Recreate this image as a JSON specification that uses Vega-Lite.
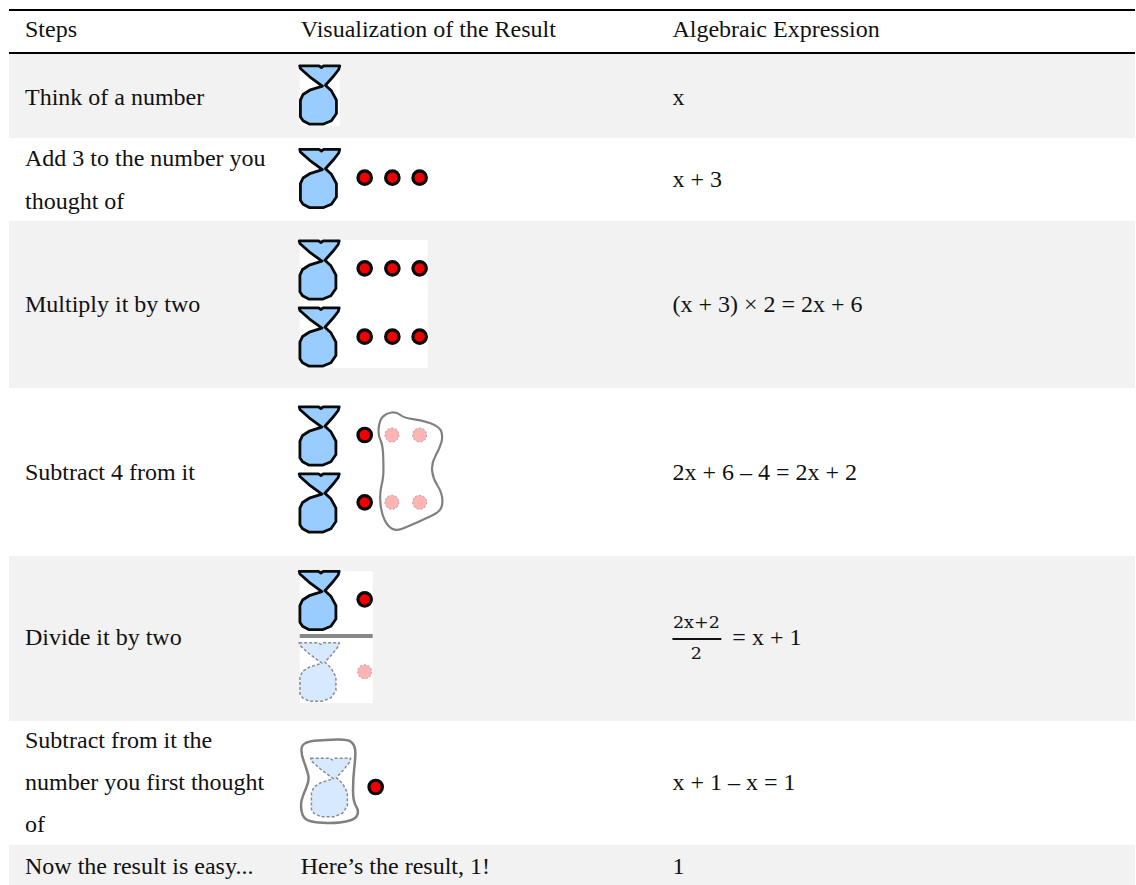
{"$schema":"https://vega.github.io/schema/vega-lite/v6.json","width":1136,"height":885,"autosize":{"type":"fit","contains":"padding"},"padding":0,"background":"#ffffff","view":{"stroke":null},
"datasets":{
"bands":[{"x":9,"x2":1136,"y":54,"y2":138},{"x":9,"x2":1136,"y":221,"y2":388},{"x":9,"x2":1136,"y":556,"y2":721},{"x":9,"x2":1136,"y":845,"y2":885}],
"imageBoxes":[{"x":300,"x2":340,"y":65,"y2":126},{"x":300,"x2":428,"y":240,"y2":368},{"x":300,"x2":373,"y":571,"y2":703}],
"rules":[{"x":9,"x2":1136,"y":10},{"x":9,"x2":1136,"y":53}],
"separators":[{"x":300,"x2":373,"y":636}],
"fractionBar":[{"x":673,"x2":722,"y":639}],
"bags":[{"x":320,"y":95.5},{"x":320,"y":179},{"x":319.5,"y":270.5},{"x":319.5,"y":337.5},{"x":319.5,"y":436.5},{"x":319.5,"y":503.5},{"x":319.5,"y":601}],
"fadedBags":[{"x":319.5,"y":672.5},{"x":331,"y":788}],
"dots":[{"x":365,"y":177.7},{"x":392.7,"y":177.7},{"x":420,"y":177.7},{"x":365,"y":268.3},{"x":392.7,"y":268.3},{"x":420,"y":268.3},{"x":365,"y":336.7},{"x":392.7,"y":336.7},{"x":420,"y":336.7},{"x":365,"y":435},{"x":365,"y":502.3},{"x":365,"y":599.3},{"x":376,"y":787}],
"fadedDots":[{"x":392.3,"y":435},{"x":420,"y":435},{"x":392.3,"y":502.3},{"x":420,"y":502.3},{"x":365,"y":671.7}],
"blobWide":[{"x":410,"y":470}],
"blobJar":[{"x":330,"y":782}],
"texts":[
{"x":25,"y":30,"t":"Steps"},{"x":301,"y":30,"t":"Visualization of the Result"},{"x":673,"y":30,"t":"Algebraic Expression"},
{"x":25,"y":98,"t":"Think of a number"},{"x":673,"y":98,"t":"x"},
{"x":25,"y":159,"t":"Add 3 to the number you"},{"x":25,"y":202,"t":"thought of"},{"x":673,"y":180,"t":"x + 3"},
{"x":25,"y":305,"t":"Multiply it by two"},{"x":673,"y":305,"t":"(x + 3) × 2 = 2x + 6"},
{"x":25,"y":473,"t":"Subtract 4 from it"},{"x":673,"y":473,"t":"2x + 6 – 4 = 2x + 2"},
{"x":25,"y":638,"t":"Divide it by two"},{"x":733,"y":638,"t":"= x + 1"},
{"x":25,"y":741,"t":"Subtract from it the"},{"x":25,"y":783,"t":"number you first thought"},{"x":25,"y":825,"t":"of"},{"x":673,"y":783,"t":"x + 1 – x = 1"},
{"x":25,"y":867,"t":"Now the result is easy..."},{"x":301,"y":867,"t":"Here’s the result, 1!"},{"x":673,"y":867,"t":"1"}],
"fractionTexts":[{"x":697,"y":623,"t":"2x+2"},{"x":697,"y":654,"t":"2"}]
},
"encoding":{"x":{"field":"x","type":"quantitative","scale":{"domain":[0,1136],"nice":false,"zero":false},"axis":null},"y":{"field":"y","type":"quantitative","scale":{"domain":[885,0],"nice":false,"zero":false},"axis":null}},
"layer":[
{"data":{"name":"bands"},"mark":{"type":"rect","fill":"#f2f2f2"},"encoding":{"x2":{"field":"x2"},"y2":{"field":"y2"}}},
{"data":{"name":"imageBoxes"},"mark":{"type":"rect","fill":"#ffffff"},"encoding":{"x2":{"field":"x2"},"y2":{"field":"y2"}}},
{"data":{"name":"rules"},"mark":{"type":"rule","stroke":"#000000","strokeWidth":2},"encoding":{"x2":{"field":"x2"}}},
{"data":{"name":"separators"},"mark":{"type":"rule","stroke":"#888888","strokeWidth":4},"encoding":{"x2":{"field":"x2"}}},
{"data":{"name":"fractionBar"},"mark":{"type":"rule","stroke":"#111111","strokeWidth":2},"encoding":{"x2":{"field":"x2"}}},
{"data":{"name":"blobWide"},"mark":{"type":"point","size":4,"opacity":1,"filled":false,"stroke":"#808080","strokeWidth":2.2,"strokeJoin":"round","shape":"M-30.9 -42.5Q-30 -50 -26.7 -53.4Q-23.3 -56.7 -18.3 -57.5Q-13.3 -58.3 -9.2 -55Q-5 -51.7 3.4 -50.9Q11.7 -50 20.9 -46.7Q30 -43.3 31.7 -38.3Q33.3 -33.3 31.7 -27.5Q30 -21.7 25.9 -14.2Q21.7 -6.7 22.5 0.8Q23.3 8.3 27.5 15Q31.7 21.7 32.5 27.5Q33.3 33.3 31.7 37.5Q30 41.7 23.4 45Q16.7 48.3 6.7 52.8Q-3.3 57.3 -8.3 59Q-13.3 60.7 -17.5 58.7Q-21.7 56.7 -25 50Q-28.3 43.3 -29.2 33.3Q-30 23.3 -28.4 16.7Q-26.7 10 -26.4 5Q-26 0 -26.4 -12.5Q-26.7 -25 -29.2 -30Q-31.7 -35 -30.9 -42.5Z"}},
{"data":{"name":"blobJar"},"mark":{"type":"point","size":4,"opacity":1,"filled":false,"stroke":"#808080","strokeWidth":2.5,"strokeJoin":"round","shape":"M-24.2 -39Q-20 -41 -11.7 -41.5Q-3.3 -42 7.5 -42.4Q18.3 -42.7 21.7 -39.9Q25 -37 25.5 -32Q26 -27 24.7 -15.4Q23.3 -3.7 23.3 8Q23.3 19.7 26.2 23.9Q29 28 27.9 32.2Q26.7 36.3 21.7 38Q16.7 39.7 10 40.5Q3.3 41.3 -6.7 40.8Q-16.7 40.3 -21.7 38.3Q-26.7 36.3 -28 29.7Q-29.3 23 -28 18Q-26.7 13 -23.4 5.5Q-20 -2 -21.7 -7.9Q-23.3 -13.7 -25.8 -20.4Q-28.3 -27 -28.3 -32Q-28.3 -37 -24.2 -39Z"}},
{"data":{"name":"bags"},"mark":{"type":"point","size":4,"opacity":1,"filled":true,"fill":"#99ccff","stroke":"#0a0a0a","strokeWidth":2.8,"strokeJoin":"round","shape":"M-20 -29.7L-0.7 -29.7L1.7 -28L4 -29.7L20 -29.7L19 -26L13.3 -18.7L5.7 -10.3L11.7 -4.7L15 1.3L16.7 4.7L16.7 18L11.7 25.3L3.3 28.7L-10 28.7L-16.7 25.3L-19.3 21.3L-19.3 4.7L-16.7 -1L-10 -5.3L2.7 -9.3L-10 -18.7L-19.3 -27Z"}},
{"data":{"name":"fadedBags"},"mark":{"type":"point","size":4,"opacity":1,"filled":true,"fill":"#d6e9ff","stroke":"#8c8c8c","strokeWidth":1.5,"strokeDash":[3,2],"strokeJoin":"round","shape":"M-20 -29.7L-0.7 -29.7L1.7 -28L4 -29.7L20 -29.7L19 -26L13.3 -18.7L5.7 -10.3L11.7 -4.7L15 1.3L16.7 4.7L16.7 18L11.7 25.3L3.3 28.7L-10 28.7L-16.7 25.3L-19.3 21.3L-19.3 4.7L-16.7 -1L-10 -5.3L2.7 -9.3L-10 -18.7L-19.3 -27Z"}},
{"data":{"name":"dots"},"mark":{"type":"point","shape":"circle","size":182,"opacity":1,"filled":true,"fill":"#f00000","stroke":"#0a0a0a","strokeWidth":3.2}},
{"data":{"name":"fadedDots"},"mark":{"type":"point","shape":"circle","size":196,"opacity":1,"filled":true,"fill":"#ffb3b3","stroke":"#a0a0a0","strokeWidth":1,"strokeDash":[2,2]}},
{"data":{"name":"texts"},"mark":{"type":"text","align":"left","baseline":"middle","font":"Liberation Serif","fontSize":24,"fill":"#111111"},"encoding":{"text":{"field":"t"}}},
{"data":{"name":"fractionTexts"},"mark":{"type":"text","align":"center","baseline":"middle","font":"DejaVu Serif","fontSize":17.5,"fill":"#111111"},"encoding":{"text":{"field":"t"}}}
]}
